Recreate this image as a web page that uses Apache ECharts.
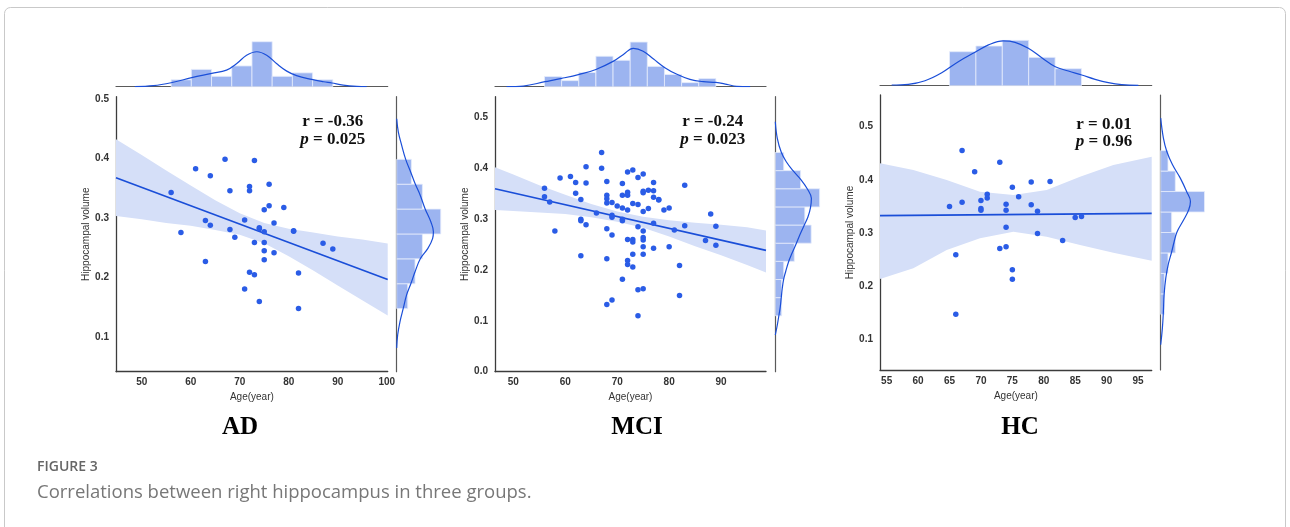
<!DOCTYPE html>
<html>
<head>
<meta charset="UTF-8">
<title>Figure 3</title>
<script src="https://cdn.jsdelivr.net/npm/echarts@6/dist/echarts.min.js"></script>
<style>
  body { margin: 0; background: #fff; }
  #box { width: 1290px; height: 527px; }
</style>
</head>
<body>
<div id="box"></div>
<script>
// ---- AD ----
var adAge = [56,58,61,64,63,64,63,67,68,68,69,72,72,71,73,72,73,71,74,74,73,75,75,75,75,75,74,76,76,77,77,79,81,81,82,82,87,89];
var adVol = [0.343,0.276,0.383,0.371,0.296,0.288,0.227,0.399,0.346,0.281,0.268,0.353,0.346,0.297,0.397,0.209,0.205,0.181,0.284,0.282,0.259,0.314,0.277,0.259,0.245,0.230,0.160,0.357,0.321,0.292,0.242,0.318,0.278,0.279,0.208,0.148,0.258,0.248];
var adTopCounts = [2,5,3,6,13,3,4,2];          // age bins from 56, width 4.125
var adRightCounts = [3,5,7,12,7,4];            // volume bins from 0.148, width 0.0418
var adTopKdeX = [48.6,52.4,56.0,60.2,64.3,67.3,69.4,71.4,73.5,75.5,77.5,79.6,81.6,84.7,87.1,88.8,91.1,93.9,95.9];
var adTopKde = [0,0.29,1.15,2.6,3.85,4.8,6.7,9.1,10.1,9.1,6.7,4.5,3.2,2.1,1.44,1.06,0.48,0.1,0];
var adRightKdeY = [0.467,0.4446,0.4223,0.3988,0.3776,0.3581,0.3385,0.3162,0.2938,0.277,0.266,0.2492,0.2325,0.21,0.1906,0.171,0.1487,0.1263,0.104,0.0817];
var adRightKde = [0,0.45,1.36,2.45,3.8,5.0,6.4,7.7,9.3,10.0,9.8,8.5,6.5,5.0,3.9,2.7,1.8,0.9,0.27,0];
var adFitX = [44.75,100.2], adFitY = [0.368,0.197];
var adBandX = [44.75,50,55,60,65,70,75,80,85,90,95,100.2];
var adBandHi = [0.4325,0.406,0.380,0.355,0.330,0.308,0.292,0.282,0.276,0.269,0.264,0.2575];
var adBandLo = [0.3035,0.298,0.292,0.287,0.280,0.272,0.258,0.236,0.212,0.187,0.162,0.1365];

// ---- MCI ----
var mciAge = [56,56,57,58,59,61,62,62,63,63,63,63,64,64,64,66,67,67,68,68,68,68,68,68,68,69,69,69,69,69,70,71,71,71,71,71,71,72,72,72,72,72,72,72,73,73,73,73,73,73,74,74,74,74,74,75,75,75,75,75,75,75,75,75,75,76,76,77,77,77,77,77,78,78,79,80,80,81,83,83,82,82,87,88,89,89];
var mciVol = [0.361,0.344,0.334,0.277,0.381,0.384,0.372,0.351,0.339,0.300,0.297,0.228,0.403,0.371,0.289,0.312,0.431,0.400,0.374,0.347,0.340,0.332,0.281,0.222,0.132,0.333,0.308,0.304,0.269,0.141,0.326,0.370,0.347,0.322,0.300,0.297,0.182,0.393,0.353,0.347,0.318,0.260,0.219,0.211,0.397,0.331,0.260,0.255,0.231,0.206,0.382,0.329,0.285,0.161,0.110,0.389,0.355,0.352,0.315,0.277,0.264,0.259,0.246,0.231,0.163,0.357,0.321,0.372,0.356,0.343,0.292,0.243,0.339,0.338,0.318,0.322,0.246,0.279,0.367,0.287,0.209,0.150,0.258,0.310,0.286,0.249];
var mciTopCounts = [5,3,7,15,13,22,10,6,2,4];   // from 56, width 3.3
var mciRightCounts = [3,3,4,9,17,14,21,12,4];  // from 0.110, width 0.0357
var mciTopKdeX = [48.7,51.9,56.1,59.3,62.7,65.9,69.3,71.2,73.1,75.0,77.0,79.1,81.5,84.0,86.6,89.0,91.1,93.0,95.6];
var mciTopKde = [0,0.33,2.46,4.1,6.1,8.5,12.6,15.9,18.9,17.5,13.6,9.5,6.1,3.6,2.46,2.1,1.15,0.16,0];
var mciRightKdeY = [0.4918,0.4592,0.4316,0.4131,0.3954,0.3771,0.3594,0.3411,0.3234,0.3049,0.2872,0.2689,0.2526,0.2329,0.2164,0.1967,0.1818,0.1641,0.1464,0.1279,0.1115,0.0919,0.0722];
var mciRightKde = [0,0.95,2.84,5.2,8.4,12.3,15.2,17.1,16.7,15.5,13.6,11.6,10.0,7.9,6.3,4.9,3.95,3.3,2.84,2.37,1.74,0.95,0];
var mciFitX = [46.47,98.65], mciFitY = [0.360,0.2387];
var mciBandX = [46.47,50,55,60,65,70,75,80,85,90,95,98.65];
var mciBandHi = [0.402,0.388,0.367,0.348,0.330,0.315,0.305,0.298,0.293,0.289,0.284,0.278];
var mciBandLo = [0.318,0.316,0.313,0.310,0.304,0.295,0.283,0.266,0.247,0.229,0.210,0.195];

// ---- HC ----
var hcAge = [65,66,66,67,67,69,70,70,70,71,71,73,73,74,74,74,74,75,75,75,76,78,78,79,79,81,83,85,86];
var hcVol = [0.350,0.259,0.147,0.455,0.358,0.415,0.361,0.346,0.343,0.373,0.366,0.433,0.271,0.354,0.343,0.311,0.274,0.386,0.231,0.213,0.368,0.396,0.353,0.341,0.299,0.397,0.286,0.329,0.331];
var hcTopCounts = [6,7,8,5,3];                 // from 65, width 4.2
var hcRightCounts = [1,1,2,4,3,12,4,2];        // from 0.147, width 0.0385
var hcTopKdeX = [55.8,58.45,61.1,63.76,66.4,69.06,71.2,73.56,75.43,77.54,79.68,81.84,83.91,86.04,88.16,90.27,92.4,95.05];
var hcTopKde = [0.12,0.24,0.88,2.29,4.24,5.9,7.2,7.9,7.65,6.6,4.94,3.35,2.59,1.88,1.12,0.53,0.18,0.06];
var hcRightKdeY = [0.516,0.4784,0.4532,0.4282,0.4032,0.378,0.3592,0.3436,0.3248,0.3016,0.284,0.2633,0.2401,0.2151,0.1837,0.1523,0.1211,0.0897];
var hcRightKde = [0,0.74,1.67,3.24,5.37,7.1,8.15,7.68,6.3,4.44,3.7,2.96,2.04,1.39,0.93,0.74,0.46,0];
var hcFitX = [53.94,97.17], hcFitY = [0.3326,0.337];
var hcBandX = [53.94,59.24,64.55,69.85,75.16,80.46,85.77,91.07,97.17];
var hcBandHi = [0.431,0.4185,0.3997,0.3777,0.3715,0.3809,0.406,0.4279,0.4436];
var hcBandLo = [0.2135,0.2335,0.268,0.290,0.3025,0.2931,0.2774,0.263,0.248];

var xTicksAD = [50,60,70,80,90,100];
var xTicksMCI = [50,60,70,80,90];
var xTicksHC = [55,60,65,70,75,80,85,90,95];
var yTicksAD = [0.1,0.2,0.3,0.4,0.5];
var yTicksMCI = [0.0,0.1,0.2,0.3,0.4,0.5];
var yTicksHC = [0.1,0.2,0.3,0.4,0.5];

var SANS = '"Liberation Sans", Arial, sans-serif';
var SERIF = '"Liberation Serif", "Times New Roman", serif';
var DOT = '#2a5ce6', LINE = '#1a4ed8', BAR = '#9cb4f0', BAND = '#d5dff8';

var panels = [
  { age: adAge, vol: adVol, xr: [44.75, 100.2], yr: [0.042, 0.504], xt: xTicksAD, yt: yTicksAD,
    main: { left: 116, top: 96.7, width: 271.7, height: 275 }, topTop: 35, topH: 51.7, rightLeft: 396.7,
    topMax: 51.7 / 3.46, rightMax: 55 / 3.67,
    topCounts: adTopCounts, topStart: 56, topW: 4.125, rightCounts: adRightCounts, rightStart: 0.148, rightW: 0.0418,
    tkx: adTopKdeX, tk: adTopKde, rky: adRightKdeY, rk: adRightKde,
    fitX: adFitX, fitY: adFitY, bx: adBandX, bh: adBandHi, bl: adBandLo },
  { age: mciAge, vol: mciVol, xr: [46.47, 98.65], yr: [0, 0.541], xt: xTicksMCI, yt: yTicksMCI,
    main: { left: 495, top: 96.7, width: 271, height: 275 }, topTop: 35, topH: 51.7, rightLeft: 775.3,
    topMax: 51.7 / 2.03, rightMax: 55 / 2.11,
    topCounts: mciTopCounts, topStart: 56, topW: 3.3, rightCounts: mciRightCounts, rightStart: 0.110, rightW: 0.0357,
    tkx: mciTopKdeX, tk: mciTopKde, rky: mciRightKdeY, rk: mciRightKde,
    fitX: mciFitX, fitY: mciFitY, bx: mciBandX, bh: mciBandHi, bl: mciBandLo },
  { age: hcAge, vol: hcVol, xr: [53.94, 97.17], yr: [0.0423, 0.5596], xt: xTicksHC, yt: yTicksHC,
    main: { left: 880, top: 95, width: 271.7, height: 275 }, topTop: 35, topH: 50.7, rightLeft: 1160.7,
    topMax: 50.7 / 5.67, rightMax: 55 / 3.65,
    topCounts: hcTopCounts, topStart: 65, topW: 4.2, rightCounts: hcRightCounts, rightStart: 0.147, rightW: 0.0385,
    tkx: hcTopKdeX, tk: hcTopKde, rky: hcRightKdeY, rk: hcRightKde,
    fitX: hcFitX, fitY: hcFitY, bx: hcBandX, bh: hcBandHi, bl: hcBandLo }
];

var grid = [], xAxis = [], yAxis = [], series = [];
var axisLineMain = { show: true, lineStyle: { color: '#3c3c3c', width: 1.3 } };
var axisLineMarg = { show: true, lineStyle: { color: '#5a5a5a', width: 1.2 } };

panels.forEach(function (p, k) {
  var gi = k * 3;
  grid.push(p.main);
  grid.push({ left: p.main.left, top: p.topTop, width: p.main.width, height: p.topH });
  grid.push({ left: p.rightLeft, top: p.main.top, width: 55, height: p.main.height });

  // main
  xAxis.push({ gridIndex: gi, type: 'value', min: p.xr[0], max: p.xr[1],
    axisLine: axisLineMain, axisTick: { show: false }, splitLine: { show: false },
    axisLabel: { customValues: p.xt, color: '#333', fontWeight: 'bold', fontSize: 10, fontFamily: SANS, margin: 6 },
    name: 'Age(year)', nameLocation: 'middle', nameGap: 20,
    nameTextStyle: { color: '#333', fontSize: 10, fontFamily: SANS } });
  yAxis.push({ gridIndex: gi, type: 'value', min: p.yr[0], max: p.yr[1],
    axisLine: axisLineMain, axisTick: { show: false }, splitLine: { show: false },
    axisLabel: { customValues: p.yt, formatter: function (v) { return v.toFixed(1); },
      color: '#333', fontWeight: 'bold', fontSize: 10, fontFamily: SANS, margin: 7 },
    name: 'Hippocampal volume', nameLocation: 'middle', nameGap: 25,
    nameTextStyle: { color: '#333', fontSize: 10, fontFamily: SANS } });
  // top marginal
  xAxis.push({ gridIndex: gi + 1, type: 'value', min: p.xr[0], max: p.xr[1],
    axisLine: axisLineMarg, axisTick: { show: false }, axisLabel: { show: false }, splitLine: { show: false } });
  yAxis.push({ gridIndex: gi + 1, type: 'value', min: 0, max: p.topMax, show: false });
  // right marginal
  xAxis.push({ gridIndex: gi + 2, type: 'value', min: 0, max: p.rightMax, show: false });
  yAxis.push({ gridIndex: gi + 2, type: 'value', min: p.yr[0], max: p.yr[1],
    axisLine: axisLineMarg, axisTick: { show: false }, axisLabel: { show: false }, splitLine: { show: false } });

  // confidence band
  series.push({
    type: 'custom', xAxisIndex: gi, yAxisIndex: gi, clip: true, z: 1, silent: true,
    data: p.bx.map(function (x, i) { return [x, p.bh[i], p.bl[i]]; }),
    encode: { x: 0, y: [1, 2] },
    renderItem: function (params, api) {
      if (params.dataIndex !== 0) return null;
      var pts = [];
      p.bx.forEach(function (x, i) { pts.push(api.coord([x, p.bh[i]])); });
      for (var i = p.bx.length - 1; i >= 0; i--) pts.push(api.coord([p.bx[i], p.bl[i]]));
      return { type: 'polygon', shape: { points: pts, smooth: 0 }, style: { fill: BAND } };
    }
  });
  // regression line
  series.push({ type: 'line', xAxisIndex: gi, yAxisIndex: gi, z: 3, symbol: 'none', silent: true,
    data: p.fitX.map(function (x, i) { return [x, p.fitY[i]]; }),
    lineStyle: { color: LINE, width: 1.6 } });
  // points
  series.push({ type: 'scatter', xAxisIndex: gi, yAxisIndex: gi, z: 4, symbolSize: 5.5,
    data: p.age.map(function (a, i) { return [a, p.vol[i]]; }),
    itemStyle: { color: DOT, opacity: 1 } });

  // top histogram
  series.push({
    type: 'custom', xAxisIndex: gi + 1, yAxisIndex: gi + 1, z: 1,
    data: p.topCounts.map(function (c, i) { return [p.topStart + i * p.topW, p.topStart + (i + 1) * p.topW, c]; }),
    encode: { x: [0, 1], y: 2 },
    renderItem: function (params, api) {
      var a = api.coord([api.value(0), api.value(2)]);
      var b = api.coord([api.value(1), 0]);
      return { type: 'rect', shape: { x: a[0], y: a[1], width: b[0] - a[0], height: b[1] - a[1] },
        style: { fill: BAR, stroke: '#e6ecfb', lineWidth: 0.8 } };
    }
  });
  series.push({ type: 'line', xAxisIndex: gi + 1, yAxisIndex: gi + 1, z: 3, symbol: 'none', smooth: 0.4,
    data: p.tkx.map(function (x, i) { return [x, p.tk[i]]; }),
    lineStyle: { color: LINE, width: 1.2 } });

  // right histogram
  series.push({
    type: 'custom', xAxisIndex: gi + 2, yAxisIndex: gi + 2, z: 1,
    data: p.rightCounts.map(function (c, i) { return [p.rightStart + i * p.rightW, p.rightStart + (i + 1) * p.rightW, c]; }),
    encode: { x: 2, y: [0, 1] },
    renderItem: function (params, api) {
      var a = api.coord([0, api.value(1)]);
      var b = api.coord([api.value(2), api.value(0)]);
      return { type: 'rect', shape: { x: a[0], y: a[1], width: b[0] - a[0], height: b[1] - a[1] },
        style: { fill: BAR, stroke: '#e6ecfb', lineWidth: 0.8 } };
    }
  });
  series.push({ type: 'line', xAxisIndex: gi + 2, yAxisIndex: gi + 2, z: 3, symbol: 'none', smooth: 0.4,
    data: p.rky.map(function (y, i) { return [p.rk[i], y]; }),
    lineStyle: { color: LINE, width: 1.2 } });
});

function statText(cx, y1, r, pval) {
  var base = { fontFamily: SERIF, fontWeight: 'bold', fontSize: 17, fill: '#111' };
  return [
    { type: 'text', x: cx, y: y1, style: Object.assign({ text: r, align: 'center', verticalAlign: 'middle' }, base) },
    { type: 'text', x: cx, y: y1 + 17.6, style: { text: '{i|p}{b| = ' + pval + '}', align: 'center', verticalAlign: 'middle',
      rich: { i: Object.assign({ fontStyle: 'italic' }, base), b: base } } }
  ];
}
function groupTitle(cx, t) {
  return { type: 'text', x: cx, y: 428, style: { text: t, align: 'center', verticalAlign: 'middle',
    fontFamily: SERIF, fontWeight: 'bold', fontSize: 25, fill: '#000' } };
}

var graphic = [
  { type: 'rect', shape: { x: 4.5, y: 7.5, width: 1281, height: 600, r: 6 },
    style: { fill: 'none', stroke: '#c9c9c9', lineWidth: 1 }, silent: true, z: -1 },
  groupTitle(240, 'AD'), groupTitle(637, 'MCI'), groupTitle(1020, 'HC'),
  { type: 'text', x: 37, y: 467, style: { text: 'FIGURE 3', verticalAlign: 'middle',
    fontFamily: '"Open Sans", sans-serif', fontWeight: 600, fontSize: 14, fill: '#666' } },
  { type: 'text', x: 37, y: 493, style: { text: 'Correlations between right hippocampus in three groups.', verticalAlign: 'middle',
    fontFamily: '"Open Sans", sans-serif', fontSize: 18.5, fill: '#777' } }
].concat(statText(332.7, 121.7, 'r = -0.36', '0.025'))
 .concat(statText(712.7, 121.7, 'r = -0.24', '0.023'))
 .concat(statText(1104, 124.3, 'r = 0.01', '0.96'));

var mychart = echarts.init(document.getElementById('box'));
mychart.setOption({
  backgroundColor: '#fff',
  animation: false,
  grid: grid,
  xAxis: xAxis,
  yAxis: yAxis,
  series: series,
  graphic: graphic
});
</script>
</body>
</html>
